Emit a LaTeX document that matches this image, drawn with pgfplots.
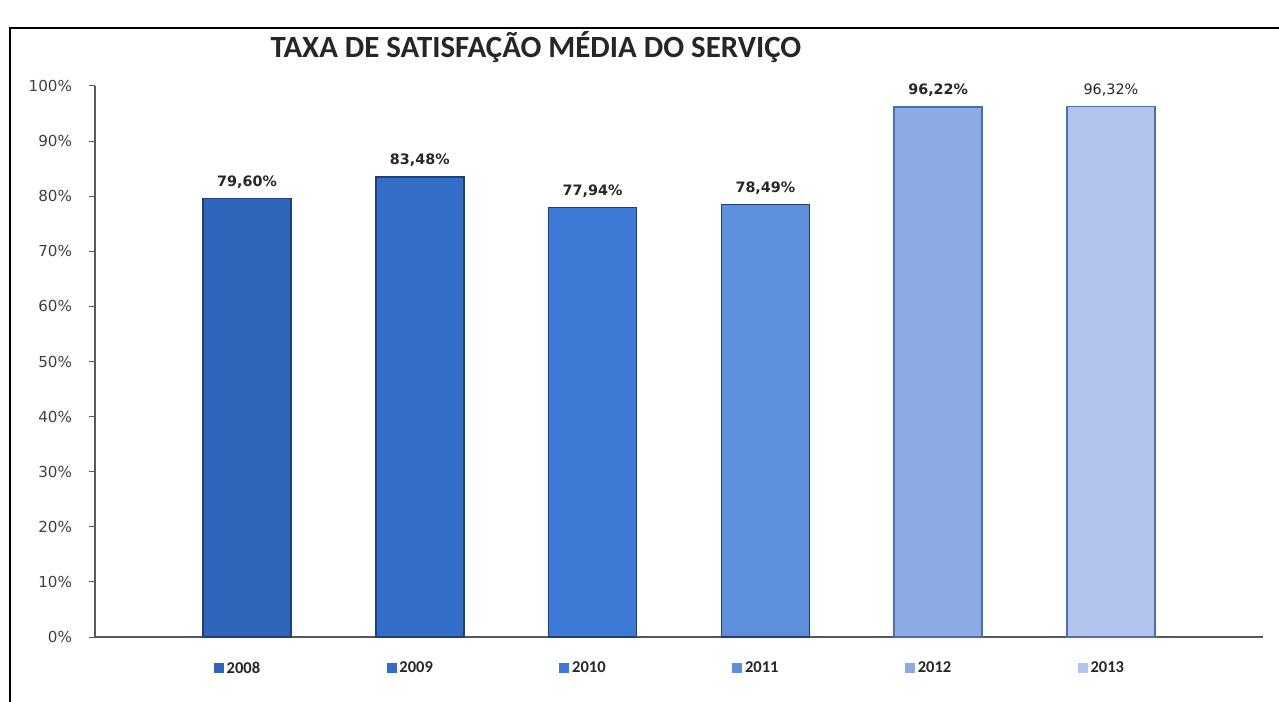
\documentclass[border=0pt]{standalone}
\usepackage{pgfplots}
\pgfplotsset{compat=1.18}
\usepackage{fontspec}
\setmainfont{DejaVu Sans}
\newfontfamily\calib{Carlito}
\definecolor{c1}{HTML}{2F66BC}
\definecolor{c2}{HTML}{336FC9}
\definecolor{c3}{HTML}{3C7AD6}
\definecolor{c4}{HTML}{5E8FDC}
\definecolor{c5}{HTML}{8CAAE4}
\definecolor{c6}{HTML}{B0C4EC}
\definecolor{d1}{HTML}{1E3F78}
\definecolor{d5}{HTML}{4A6EAE}
\newcommand{\leg}[2]{\textcolor{#1}{\rule{5bp}{5bp}}\,{\calib\bfseries #2}}
\begin{document}
\begin{tikzpicture}
\path[use as bounding box, fill=white] (-47.5bp,-32.5bp) rectangle (592bp,318.5bp);
\draw[black, line width=0.8bp] (-42.5bp,-32.5bp) -- (-42.5bp,304.5bp) -- (592bp,304.5bp);
\begin{axis}[
  at={(0,0)}, anchor=south west,
  scale only axis, width=584bp, height=275.5bp,
  xmin=-0.88, xmax=5.88, ymin=0, ymax=100,
  axis x line*=bottom, axis y line*=left,
  axis line style={gray!70!black, line width=0.6bp},
  ytick={0,10,...,100},
  yticklabel={\pgfmathprintnumber{\tick}\%},
  yticklabel style={font=\fontsize{7.6}{9}\selectfont, text=black!75, xshift=-5bp},
  /pgf/number format/assume math mode=true,
  tick style={gray!70!black, line width=0.5bp},
  ytick pos=left, tick align=outside, major tick length=3bp,
  xtick={0,1,2,3,4,5},
  major x tick style={draw=none},
  xticklabels={\leg{c1}{2008},\leg{c2}{2009},\leg{c3}{2010},\leg{c4}{2011},\leg{c5}{2012},\leg{c6}{2013}},
  xticklabel style={font=\fontsize{8.3}{9}\selectfont, text=black!85, yshift=-6bp, xshift=-5bp},
  ybar, bar width=44bp, bar shift=0pt,
  nodes near coords={\pgfmathprintnumber[fixed,fixed zerofill,precision=2,use comma]{\pgfplotspointmeta}\%},
  nodes near coords style={font=\fontsize{7.2}{8}\selectfont\bfseries, text=black!85, anchor=south, yshift=1.5bp},
  clip=false,
]
\addplot[fill=c1, draw=d1, line width=0.7bp] coordinates {(0,79.60)};
\addplot[fill=c2, draw=d1, line width=0.7bp] coordinates {(1,83.48)};
\addplot[fill=c3, draw=d1, line width=0.7bp] coordinates {(2,77.94)};
\addplot[fill=c4, draw=d1, line width=0.7bp] coordinates {(3,78.49)};
\addplot[fill=c5, draw=d5, line width=0.7bp] coordinates {(4,96.22)};
\addplot[fill=c6, draw=d5, line width=0.7bp, nodes near coords style={font=\fontsize{7.2}{8}\selectfont\mdseries}] coordinates {(5,96.32)};
\end{axis}
\node[font=\calib\bfseries\fontsize{15.5}{18}\selectfont, text=black!85] at (220.5bp,295bp) {TAXA DE SATISFAÇÃO MÉDIA DO SERVIÇO};
\end{tikzpicture}
\end{document}
